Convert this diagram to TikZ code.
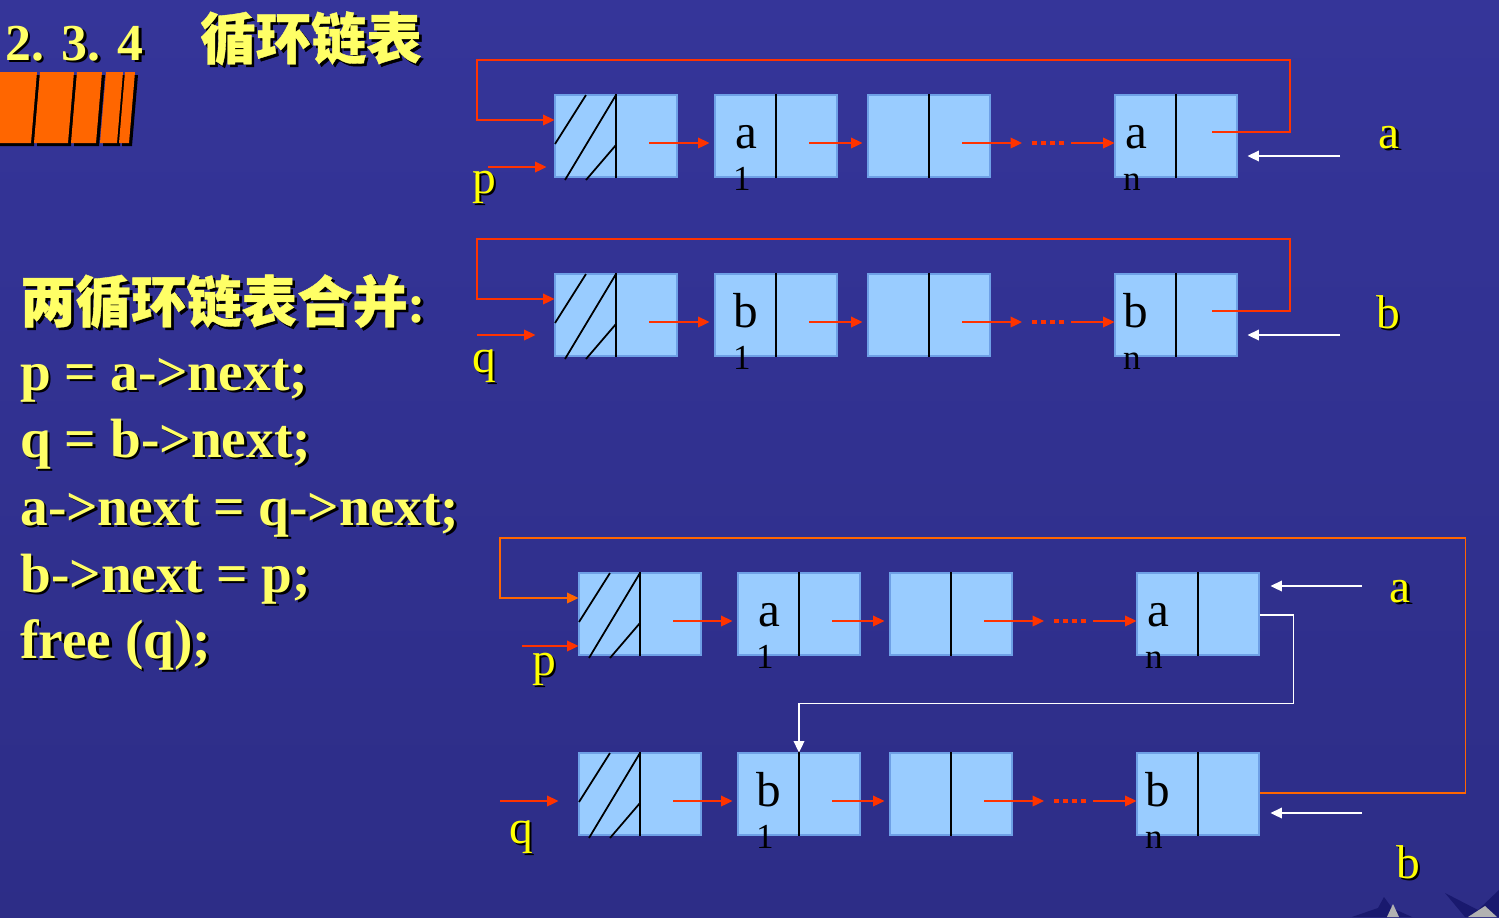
\documentclass[tikz,border=0pt]{standalone}
\usepackage{fontspec}
\setmainfont{Liberation Serif}
\newfontfamily\cjk{Noto Sans CJK SC}[FakeBold=0.7]
\usetikzlibrary{arrows.meta,calc}

\definecolor{bgtop}{RGB}{53,53,153}
\definecolor{bgbot}{RGB}{45,45,135}
\definecolor{cellblue}{RGB}{153,204,255}
\definecolor{cellrim}{RGB}{110,160,230}
\definecolor{ptrred}{RGB}{255,51,0}
\definecolor{looporange}{RGB}{255,102,0}
\definecolor{codeyellow}{RGB}{255,255,102}
\definecolor{lblyellow}{RGB}{255,255,0}
\definecolor{stripeorange}{RGB}{255,102,0}
\definecolor{stardark}{RGB}{25,25,110}

\newcommand\shtext[1]{\rlap{\kern1.5pt\raisebox{-1.5pt}{\color{black}#1}}#1}

\tikzset{
  cell/.style={draw=cellrim, line width=0.6pt, fill=cellblue, minimum width=2.44cm, minimum height=1.64cm, inner sep=0pt},
  divider/.style={black, line width=1pt},
  hatch/.style={black, line width=1pt},
  ptrtip/.style={-{Triangle[length=6.5pt,width=6pt]}},
  redarrow/.style={ptrred, line width=1.1pt, ptrtip},
  whitearrow/.style={white, line width=1.1pt, ptrtip},
  reddots/.style={ptrred, line width=2.4pt, dash pattern=on 2.6pt off 2.6pt},
  celltxt/.style={anchor=base, inner sep=0pt, font=\fontsize{28}{32}\selectfont},
  subtxt/.style={anchor=base, inner sep=0pt, font=\fontsize{20}{24}\selectfont},
  ptrlbl/.style={anchor=base, inner sep=0pt, text=lblyellow, font=\fontsize{27}{32}\selectfont},
  codetxt/.style={anchor=base west, inner sep=0pt, text=codeyellow, font=\fontsize{31.5}{36}\selectfont\bfseries},
}

\begin{document}
\begin{tikzpicture}[x=0.02cm,y=-0.02cm]
\useasboundingbox (0,0) rectangle (1499,917);
\shade[top color=bgtop,bottom color=bgbot] (0,0) rectangle (1499,917);

\foreach \l/\r in {0/37, 40/74, 77/102, 106/123, 125/135}
  \fill[black] (\l+3,75) -- (\r+3,75) -- (\r-3,146) -- (\l-3,146) -- cycle;
\foreach \l/\r in {0/37, 40/74, 77/102, 106/123, 125/135}
  \fill[stripeorange] (\l,72) -- (\r,72) -- (\r-6,143) -- (\l-6,143) -- cycle;

\node[codetxt, font=\fontsize{29.5}{34}\selectfont\bfseries] (secno) at (5,60) {\shtext{2. 3. 4}};
\node[codetxt] (sectitle) at (200,59) {\shtext{\cjk 循环链表}};
\node[codetxt] (merge) at (20,322) {\shtext{{\cjk 两循环链表合并}:}};
\node[codetxt] (line1) at (20,390) {\shtext{p = a->next;}};
\node[codetxt] (line2) at (20,457) {\shtext{q = b->next;}};
\node[codetxt] (line3) at (20,525) {\shtext{a->next = q->next;}};
\node[codetxt] (line4) at (20,592) {\shtext{b->next = p;}};
\node[codetxt] (line5) at (20,658) {\shtext{free (q);}};

\foreach \nm/\y/\xa/\xb/\xc/\xd/\ltr in {ta/136/616/776/929/1176/a, tb/315/616/776/929/1176/b,
    ma/614/640/799/951/1198/a, mb/794/640/799/951/1198/b} {
  \node[cell] (\nm0) at (\xa,\y) {};
  \node[cell] (\nm1) at (\xb,\y) {};
  \node[cell] (\nm2) at (\xc,\y) {};
  \node[cell] (\nm3) at (\xd,\y) {};
  \foreach \i in {0,1,2,3}
    \draw[divider] (\nm\i.north) -- (\nm\i.south);
  \draw[hatch] ($(\nm0.center)+(-61,8)$) -- ($(\nm0.center)+(-30,-41)$)
               ($(\nm0.center)+(-51,44)$) -- ($(\nm0.center)+(0,-41)$)
               ($(\nm0.center)+(-30,44)$) -- ($(\nm0.center)+(0,9)$);
  \draw[redarrow, shorten >=0.1cm] ($(\nm0.center)+(33,7)$) -- ($(\nm1.west)+(0,7)$);
  \draw[redarrow, shorten >=0.1cm] ($(\nm1.center)+(33,7)$) -- ($(\nm2.west)+(0,7)$);
  \draw[redarrow] ($(\nm2.center)+(33,7)$) -- ++(60,0) coordinate (\nm dots);
  \draw[reddots] ($(\nm dots)+(10,0)$) -- ++(33,0);
  \draw[redarrow] ($(\nm dots)+(49,0)$) -- ($(\nm3.west)+(0,7)$);
  \node[celltxt] (\nm1t) at ($(\nm1.center)+(-30,12)$) {\ltr};
  \node[subtxt] (\nm1s) at ($(\nm1.center)+(-34,54)$) {1};
  \node[celltxt] (\nm3t) at ($(\nm3.center)+(-40,12)$) {\ltr};
  \node[subtxt] (\nm3s) at ($(\nm3.center)+(-44,54)$) {n};
}

\coordinate (taturn) at (477,60);
\coordinate (tbturn) at (477,239);
\coordinate (mturn) at (500,538);
\draw[redarrow] ($(ta3.center)+(36,-4)$) -- ++(78,0) |- (taturn) |- ($(ta0.west)+(0,-16)$);
\draw[redarrow] ($(tb3.center)+(36,-4)$) -- ++(78,0) |- (tbturn) |- ($(tb0.west)+(0,-16)$);
\draw[redarrow, looporange] ($(mb3.east)+(0,-1)$) -- ++(206,0) |- (mturn) |- ($(ma0.west)+(0,-16)$);
\draw[whitearrow] ($(ma3.east)+(0,1)$) -- ++(34,0) |- ($(mb1.north)+(0,-49)$) -- (mb1.north);

\coordinate (taend) at (1340,156);
\coordinate (tbend) at (1340,335);
\coordinate (maend) at (1362,586);
\coordinate (mbend) at (1362,813);
\draw[whitearrow, shorten >=0.2cm] (taend) -- (ta3.east |- taend);
\draw[whitearrow, shorten >=0.2cm] (tbend) -- (tb3.east |- tbend);
\draw[whitearrow, shorten >=0.22cm] (maend) -- (ma3.east |- maend);
\draw[whitearrow, shorten >=0.22cm] (mbend) -- (mb3.east |- mbend);

\coordinate (tastart) at (488,167);
\coordinate (tbstart) at (477,335);
\coordinate (mastart) at (522,646);
\coordinate (mbstart) at (500,801);
\draw[redarrow, shorten >=0.16cm] (tastart) -- (ta0.west |- tastart);
\draw[redarrow, shorten >=0.38cm] (tbstart) -- (tb0.west |- tbstart);
\draw[redarrow] (mastart) -- (ma0.west |- mastart);
\draw[redarrow, shorten >=0.4cm] (mbstart) -- (mb0.west |- mbstart);

\node[ptrlbl] (plbl) at (484,193) {\shtext{p}};
\node[ptrlbl] (qlbl) at (484,372) {\shtext{q}};
\node[ptrlbl] (albl) at (1389,148) {\shtext{a}};
\node[ptrlbl] (blbl) at (1388,328) {\shtext{b}};
\node[ptrlbl] (plbl2) at (544,675) {\shtext{p}};
\node[ptrlbl] (qlbl2) at (521,843) {\shtext{q}};
\node[ptrlbl] (albl2) at (1400,602) {\shtext{a}};
\node[ptrlbl] (blbl2) at (1408,878) {\shtext{b}};

\fill[stardark] (1352,917) -- (1378,908) -- (1384,897) -- (1392,908) -- (1412,917) -- cycle;
\fill[gray!60] (1387,917) -- (1393,904) -- (1399,917) -- cycle;
\fill[stardark] (1445,893) -- (1478,910) -- (1499,890) -- (1499,917) -- (1465,917) -- cycle;
\fill[gray!60] (1468,917) -- (1485,906) -- (1497,917) -- cycle;
\end{tikzpicture}
\end{document}
